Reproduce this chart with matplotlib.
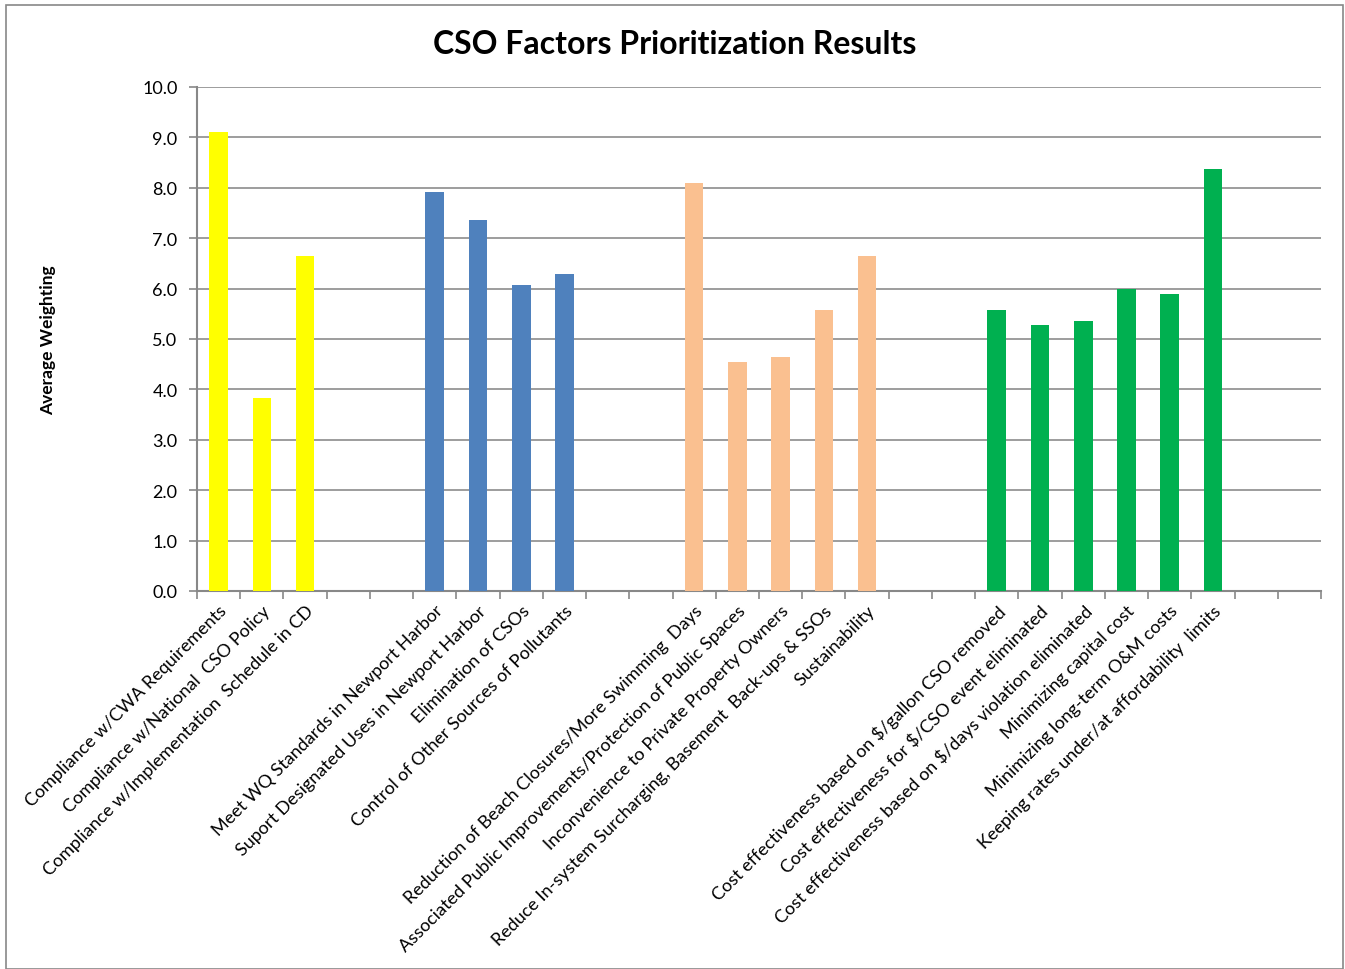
#!/usr/bin/env python3
"""CSO Factors Prioritization Results - bar chart with grouped factor categories."""
import matplotlib
matplotlib.use("Agg")
import matplotlib.pyplot as plt
from matplotlib.patches import Rectangle

plt.rcParams["font.family"] = ["Lato", "DejaVu Sans"]

# data (blank slots between groups kept as empty labels / no value)
regulatory = ["Compliance w/CWA Requirements",
              "Compliance w/National  CSO Policy",
              "Compliance w/Implementation  Schedule in CD"]
regulatory_vals = [9.1, 3.82, 6.65]

water_quality = ["Meet WQ Standards in Newport Harbor",
                 "Suport Designated Uses in Newport Harbor",
                 "Elimination of CSOs",
                 "Control of Other Sources of Pollutants"]
water_quality_vals = [7.91, 7.36, 6.07, 6.28]

community = ["Reduction of Beach Closures/More Swimming  Days",
             "Associated Public Improvements/Protection of Public Spaces",
             "Inconvenience to Private Property Owners",
             "Reduce In-system Surcharging, Basement  Back-ups & SSOs",
             "Sustainability"]
community_vals = [8.09, 4.54, 4.64, 5.57, 6.64]

cost = ["Cost effectiveness based on $/gallon CSO removed",
        "Cost effectiveness for $/CSO event eliminated",
        "Cost effectiveness based on $/days violation eliminated",
        "Minimizing capital cost",
        "Minimizing long-term O&M costs",
        "Keeping rates under/at affordability  limits"]
cost_vals = [5.57, 5.28, 5.35, 6.0, 5.9, 8.38]

groups = [(regulatory, regulatory_vals, "#FFFF00"),
          (water_quality, water_quality_vals, "#4F81BD"),
          (community, community_vals, "#FAC090"),
          (cost, cost_vals, "#00B050")]
gap = 2

fig = plt.figure(figsize=(13.45, 9.70), dpi=100)
ax = fig.add_axes([197 / 1345, 1 - 592 / 970, (1321 - 197) / 1345, (592 - 88) / 970])

labels = []
pos = 0
for names, vals, color in groups:
    xs = list(range(pos, pos + len(names)))
    ax.bar(xs, vals, width=0.43, color=color, zorder=3)
    labels += names + [""] * gap
    pos += len(names) + gap

n = len(labels)
ax.set_xlim(-0.5, n - 0.5)
ax.set_ylim(0, 10)
ax.set_yticks([i for i in range(11)])
ax.set_yticklabels([f"{i:.1f}" for i in range(11)], fontsize=13)
ax.set_xticks(range(n))
ax.set_xticklabels(labels, rotation=45, ha="right", va="top",
                   rotation_mode="anchor", fontsize=13)
ax.set_xticks([i - 0.5 for i in range(n + 1)], minor=True)
ax.tick_params(axis="x", which="major", length=0, pad=8)
ax.tick_params(axis="x", which="minor", length=6, color="#888888", width=1.2)
ax.tick_params(axis="y", length=6, color="#888888", width=1.2, pad=8)

ax.grid(axis="y", color="#8c8c8c", linewidth=1.2, zorder=0)
for side in ["top", "right"]:
    ax.spines[side].set_visible(False)
for side in ["left", "bottom"]:
    ax.spines[side].set_color("#888888")
    ax.spines[side].set_linewidth(1.5)

ax.set_ylabel("Average Weighting", fontsize=12.5, fontweight="bold", labelpad=62)
fig.text(675 / 1345, 1 - 44 / 970, "CSO Factors Prioritization Results",
         ha="center", va="center", fontsize=23, fontweight="bold")

fig.patches.append(Rectangle((6 / 1345, 0), 1337 / 1345, 1 - 6 / 970,
                             transform=fig.transFigure, fill=False,
                             edgecolor="#888888", linewidth=1.2))

fig.savefig("out.png", dpi=100)
